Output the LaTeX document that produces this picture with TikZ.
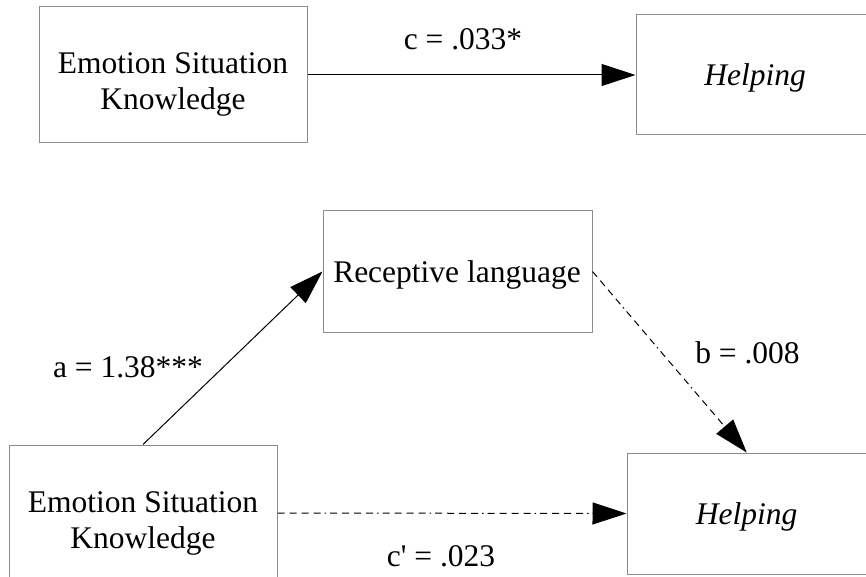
\documentclass[tikz,border=0pt]{standalone}
\usepackage{fontspec}
\setmainfont{Liberation Serif}[Ligatures=TeXOff]
\usetikzlibrary{arrows.meta}
\definecolor{boxgray}{RGB}{140,140,140}
\begin{document}
\begin{tikzpicture}[x=1pt,y=-1pt,
  box/.style={draw=boxgray, line width=1pt, inner sep=0pt},
  txt/.style={font=\fontsize{31.5}{36}\selectfont, inner sep=0pt, anchor=base, align=center},
  arr/.style={draw=black, line width=1pt, -{Triangle[length=34pt,width=22pt]}},
  dashdot/.style={dash pattern=on 7pt off 5pt on 7pt off 5pt on 7pt off 5pt on 7pt off 4pt on 1.5pt off 4pt}
]
\useasboundingbox (0,0) rectangle (866,577);
\fill[white] (0,0) rectangle (866,577);
% boxes
\node[box, minimum width=267.5pt, minimum height=136pt] (esk1) at (173.25,75) {};
\node[box, minimum width=238pt, minimum height=120pt] (help1) at (755,75) {};
\node[box, minimum width=269pt, minimum height=121pt] (rec) at (457.5,271.5) {};
\node[box, minimum width=268pt, minimum height=136pt] (esk2) at (143,513) {};
\node[box, minimum width=239.5pt, minimum height=121pt] (help2) at (746.75,513.5) {};
% texts (base anchor = last line baseline)
\node[txt] (esk1t) at (173,110) {Emotion Situation\\Knowledge};
\node[txt] (help1t) at (755,86) {\itshape Helping};
\node[txt] (rect) at (457,282) {Receptive language};
\node[txt] (esk2t) at (143,548) {Emotion Situation\\Knowledge};
\node[txt] (help2t) at (746.5,524) {\itshape Helping};
% labels
\node[txt] (cl) at (463,50) {c = .033*};
\node[txt] (al) at (128,377) {a = 1.38***};
\node[txt] (bl) at (747.5,363) {b = .008};
\node[txt] (cpl) at (441,566) {c' = .023};
% connectors
\draw[arr] (esk1.east) -- (help1.west);
\draw[arr] (esk2.north) -- (rec.west);
\draw[arr, dashdot] (rec.east) -- (help2.north);
\draw[arr, dashdot] (esk2.east) -- (help2.west);
\end{tikzpicture}
\end{document}
